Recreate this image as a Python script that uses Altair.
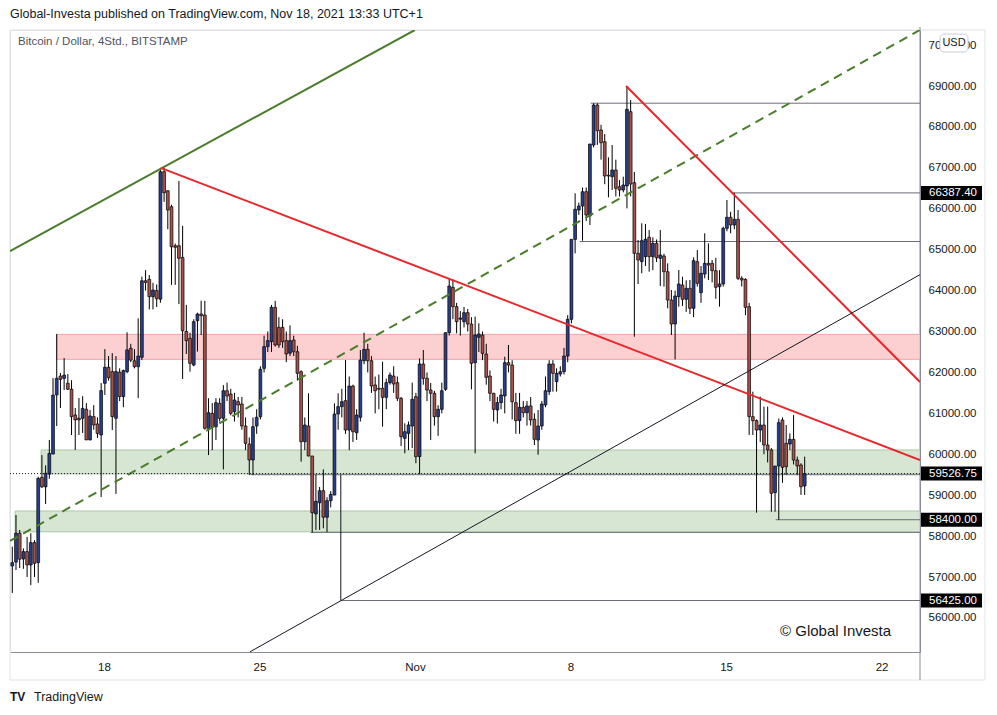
import altair as alt
import pandas as pd

# ---- BTC/USD 4h candles (Bitstamp), day numbers: October = day of month, November = 31 + day
FIRST_DAY = 13.873
CANDLES_PER_DAY = 6

open_ = [
    57270, 57365, 58070, 57440, 57620, 57295, 57840, 57350, 59435, 59205,
    59515, 60005, 61450, 61910, 61855, 61735, 61590, 60960, 60880, 60880,
    61100, 60350, 60920, 60740, 60470, 61735, 62125, 62020, 60880, 62005,
    61410, 62020, 62590, 62285, 62140, 62370, 64240, 64276, 63850, 64000,
    63790, 66906, 66440, 66050, 65097, 65097, 64810, 63000, 62834, 62180,
    63264, 63428, 63403, 60634, 61000, 60674, 61245, 60878, 61553, 61473,
    61040, 61285, 61228, 60690, 60250, 59860, 60690, 60919, 62100, 62630,
    62751, 63591, 63102, 63100, 62777, 62470, 62792, 62506, 62018, 60307,
    60690, 59957, 58542, 58815, 59110, 58461, 58865, 59003, 60983, 61164,
    61310, 60592, 61668, 60527, 60903, 62286, 62564, 62286, 61693, 61611,
    61611, 61391, 61750, 61912, 61750, 61367, 60389, 60511, 60690, 61408,
    59942, 62206, 61856, 61570, 61490, 60919, 61098, 61587, 62971, 64080,
    63607, 63300, 63240, 63460, 63183, 62238, 62858, 62914, 62450, 61912,
    61490, 61082, 61262, 61424, 62238, 62181, 61262, 60822, 61147, 61016,
    61180, 60855, 60348, 60690, 61204, 61530, 62206, 61775, 61961, 62018,
    62400, 63298, 65253, 65970, 66067, 66417, 65823, 67558, 68536, 67925,
    67639, 66820, 66784, 66947, 66539, 66458, 66556, 68372, 66638, 64911,
    64708, 64829, 65302, 64829, 65155, 64789, 64846, 64462, 63770, 63183,
    63851, 64136, 63787, 64055, 63567, 64707, 63950, 64405, 64666, 64666,
    64486, 64096, 64161, 65522, 65791, 65603, 65742, 64300, 64276, 63607,
    60919, 60822, 60592, 60715, 60226, 60104, 59062, 59713, 60837, 60267,
    60250, 60365, 59859, 59737, 59225,
]
high = [
    57740, 58515, 58150, 57700, 57980, 58070, 57900, 59450, 59980, 59730,
    60350, 61860, 62940, 61985, 62350, 61960, 61810, 61130, 61375, 61420,
    61250, 61080, 61200, 60900, 61740, 62570, 62400, 62470, 62400, 62100,
    62070, 62980, 62700, 62570, 63320, 64340, 64500, 64380, 64190, 64150,
    66950, 67000, 66450, 66100, 65150, 66680, 65580, 63650, 62970, 63300,
    63460, 63753, 63750, 61370, 61250, 61370, 61370, 61690, 61750, 61600,
    61500, 61400, 61400, 60900, 60410, 60900, 61100, 62150, 62900, 63000,
    63650, 63750, 63350, 63300, 63000, 63150, 62900, 62650, 62050, 60900,
    61490, 59960, 59500, 59200, 59632, 58950, 59100, 61245, 61490, 61600,
    62303, 61900, 61700, 61100, 62548, 62971, 62700, 62400, 61900, 61950,
    62262, 61850, 62000, 62150, 61900, 61400, 60756, 60800, 61750, 61500,
    62345, 62548, 62000, 61740, 61550, 61200, 61750, 62971, 64300, 64276,
    63700, 63500, 63600, 63550, 63350, 63364, 63200, 63000, 62700, 62050,
    61500, 61400, 61600, 62384, 62670, 62300, 61500, 61500, 61300, 61300,
    61400, 61000, 61082, 61300, 61900, 62300, 62300, 62100, 62150, 62600,
    63400, 65253, 66378, 66150, 66520, 66520, 67583, 68577, 68577, 68050,
    67827, 67257, 67558, 67200, 66700, 66784, 69000, 68658, 66900, 65236,
    65645, 65627, 65480, 65300, 65250, 65480, 64900, 64666, 64014, 64000,
    64503, 64340, 64250, 64259, 64813, 64992, 64600, 65400, 65155, 64747,
    64800, 64500, 65562, 66214, 65927, 66393, 65970, 64350, 64300, 63700,
    61530, 60850, 61408, 61164, 61164, 60150, 59713, 60874, 60900, 60715,
    60511, 60959, 59942, 59780, 59942,
]
low = [
    56610, 57170, 57220, 57200, 57000, 56800, 57000, 56860, 59175, 58785,
    59400, 60000, 60690, 61130, 61570, 61570, 60470, 60105, 60470, 60520,
    60350, 60340, 60600, 60400, 58955, 61450, 61800, 60590, 59030, 61300,
    61150, 61980, 62250, 62100, 61370, 62300, 64000, 63540, 63540, 63600,
    63700, 66170, 65500, 64140, 64140, 63670, 61840, 62450, 62020, 62150,
    62510, 62914, 60600, 59980, 60100, 60350, 60800, 59630, 61300, 60950,
    60800, 60900, 60600, 60100, 59490, 59490, 60500, 60850, 62000, 62500,
    62500, 62630, 62600, 62600, 62250, 62400, 62400, 61800, 59818, 60100,
    59950, 58083, 58150, 58150, 58190, 58100, 58700, 59000, 60600, 60900,
    60500, 60100, 60300, 60350, 60800, 62200, 62000, 61500, 61000, 61100,
    60674, 61100, 61700, 61500, 61300, 60200, 60023, 60100, 60150, 59780,
    59518, 61700, 61300, 60350, 60700, 60450, 61000, 61550, 62900, 63300,
    62956, 62900, 63100, 63000, 61587, 60023, 62500, 62300, 61700, 61300,
    60800, 60750, 61100, 61000, 62000, 60850, 60500, 60500, 60900, 60700,
    60700, 60226, 59990, 60600, 61150, 61450, 61530, 61530, 61900, 61950,
    62250, 63200, 64911, 65850, 65219, 65700, 65603, 67500, 67560, 67200,
    66600, 66280, 66458, 66300, 66300, 66400, 66010, 66300, 62873, 64161,
    64423, 64600, 64462, 64500, 64700, 64112, 64096, 63567, 62914, 62320,
    63607, 63624, 63480, 63428, 63350, 64100, 63700, 64300, 64259, 64200,
    63800, 63607, 64100, 65450, 65400, 65500, 64259, 64100, 63400, 60471,
    60471, 58572, 60300, 60000, 59800, 58596, 58596, 58400, 59300, 59500,
    60100, 59750, 59500, 59006, 59006,
]
close_ = [
    57350, 58075, 57435, 57620, 57295, 57840, 57335, 59410, 59205, 59535,
    60020, 61445, 61855, 61830, 61935, 61590, 60920, 60840, 60840, 61120,
    60350, 60935, 60715, 60510, 61555, 62125, 61870, 60920, 62020, 61410,
    62045, 62550, 62300, 62140, 62400, 64240, 64200, 63850, 64014, 63800,
    66906, 66392, 65970, 65070, 65058, 64790, 63020, 62776, 62223, 63240,
    63428, 63387, 60634, 61016, 60674, 61260, 60878, 61553, 61424, 61000,
    61326, 61204, 60690, 60267, 59860, 60674, 60903, 62077, 62630, 62777,
    63591, 62670, 62670, 62750, 62450, 62777, 62506, 61978, 60307, 60715,
    59957, 58571, 58850, 59110, 58461, 58865, 59020, 60983, 61164, 61285,
    60592, 61668, 60551, 60959, 62303, 62564, 62286, 61668, 61553, 61590,
    61391, 61750, 61937, 61717, 61367, 60429, 60551, 60715, 61343, 59942,
    62206, 61856, 61570, 61490, 60919, 61098, 61553, 62971, 64112, 63607,
    63240, 63330, 63460, 63183, 62222, 62914, 62939, 62466, 61880, 61490,
    61098, 61262, 61449, 62238, 62181, 61285, 60822, 61147, 61016, 61180,
    60838, 60365, 60690, 61228, 61553, 62206, 61978, 61978, 62018, 62400,
    63298, 65253, 65986, 66067, 66417, 65847, 67583, 68536, 67908, 67614,
    66800, 66800, 66947, 66500, 66458, 66580, 68430, 66605, 64911, 64748,
    65219, 65253, 64829, 65155, 64800, 64870, 64462, 63770, 63183, 63868,
    64161, 63787, 64055, 63567, 64731, 64178, 64423, 64666, 64625, 64486,
    64080, 64161, 65522, 65791, 65603, 65742, 64300, 64259, 63591, 60919,
    60822, 60592, 60715, 60226, 60104, 59046, 59713, 60772, 59681, 59697,
    60365, 59859, 59713, 59207, 59527,
]

# ---- drawings (day, price)
green_solid_d = [13.77, 31.99]
green_solid_p = [64967, 70368]
green_dash_d = [13.77, 54.73]
green_dash_p = [57880, 70370]
red1_d = [20.55, 54.73]
red1_p = [67000, 59860]
red2_d = [41.5, 54.73]
red2_p = [69000, 61766]
black_d = [24.57, 54.73]
black_p = [55170, 64390]

zone_kind = ["pink", "green", "green"]
zone_d1 = [15.87, 15.17, 14.0]
zone_p1 = [62320, 59520, 58105]
zone_p2 = [62930, 60104, 58613]

ray_d = [39.91, 46.25, 39.41, 24.6, 27.31, 48.23, 28.66]
ray_p = [68580, 66387.4, 65200, 59500, 58090, 58400, 56425]

tag_price = [66387.40, 59526.75, 58400.00, 56425.00]
last_price = 59526.75

x_ticks = [18, 25, 32, 39, 46, 53]
y_ticks = list(range(56000, 70001, 1000))

X0, X1 = 13.77, 54.73
Y0, Y1 = 55167, 70369

FONT = "Liberation Sans"
TXT = "#131722"

days = [FIRST_DAY + i / CANDLES_PER_DAY for i in range(len(close_))]
df = pd.DataFrame({"d": days, "o": open_, "h": high, "l": low, "c": close_})
df["dir"] = ["up" if c >= o else "down" for o, c in zip(open_, close_)]

xs = alt.Scale(domain=[X0, X1], nice=False, zero=False, padding=0)
ys = alt.Scale(domain=[Y0, Y1], nice=False, zero=False, padding=0)

x_axis = alt.Axis(
    values=x_ticks,
    labelExpr="datum.value == 32 ? 'Nov' : (datum.value > 32 ? toString(datum.value - 31) : toString(datum.value))",
    ticks=False, grid=False, domainColor="#8a8d96", labelColor=TXT,
    labelFontSize=11.5, labelFont=FONT, labelPadding=9, title=None,
)
y_axis = alt.Axis(
    orient="right", values=y_ticks, labelExpr="format(datum.value, '.2f')",
    ticks=False, grid=False, domainColor="#8a8d96", labelColor=TXT,
    labelFontSize=11.5, labelFont=FONT, labelPadding=8, title=None,
    labelOverlap=False,
)


def X(f):
    return alt.X(f, type="quantitative", scale=xs, axis=x_axis)


def Y(f):
    return alt.Y(f, type="quantitative", scale=ys, axis=y_axis)


one = pd.DataFrame({"k": [0]})

card = alt.Chart(one).mark_rect(fillOpacity=0, stroke="#e0e3eb", strokeWidth=1).encode(
    x=alt.value(0), x2=alt.value(975), y=alt.value(0), y2=alt.value(650)
)
sep = alt.Chart(one).mark_rule(color="#8a8d96", strokeWidth=1).encode(
    x=alt.value(910), y=alt.value(-3), y2=alt.value(650)
)

zones = pd.DataFrame({"kind": zone_kind, "d1": zone_d1, "d2": [X1] * 3, "p1": zone_p1, "p2": zone_p2})
pink = alt.Chart(zones[zones.kind == "pink"]).mark_rect(
    fill="#fccfd1", stroke="#f3a5aa", strokeWidth=1, clip=True
).encode(x=X("d1"), x2="d2", y=Y("p1"), y2="p2")
green = alt.Chart(zones[zones.kind == "green"]).mark_rect(
    fill="#d7e6d3", stroke="#abc8a5", strokeWidth=1, clip=True
).encode(x=X("d1"), x2="d2", y=Y("p1"), y2="p2")

rays_df = pd.DataFrame({"d1": ray_d, "d2": [X1] * len(ray_d), "p": ray_p})
rays = alt.Chart(rays_df).mark_rule(color="#6a6d78", strokeWidth=1, clip=True).encode(
    x=X("d1"), x2="d2", y=Y("p")
)
vline = alt.Chart(pd.DataFrame({"d": [ray_d[-1]], "p1": [ray_p[3]], "p2": [ray_p[-1]]})).mark_rule(
    color="#131722", strokeWidth=1, clip=True
).encode(x=X("d"), y=Y("p1"), y2="p2")

dotted = alt.Chart(pd.DataFrame({"p": [last_price]})).mark_rule(
    color="#131722", strokeWidth=1, strokeDash=[1, 2]
).encode(y=Y("p"), x=alt.value(0), x2=alt.value(910))

wicks = alt.Chart(df).mark_rule(color="#000000", strokeWidth=1, clip=True).encode(
    x=X("d"), y=Y("l"), y2="h"
)
bodies = alt.Chart(df).mark_bar(size=2.8, stroke="#000000", strokeWidth=0.7, clip=True).encode(
    x=X("d"), y=Y("o"), y2="c",
    color=alt.Color("dir:N", scale=alt.Scale(domain=["up", "down"], range=["#283f8e", "#a8514a"]), legend=None),
)


def tline(dd, pp, color, width, dash=None):
    kw = dict(color=color, strokeWidth=width, clip=True)
    if dash:
        kw["strokeDash"] = dash
    return alt.Chart(pd.DataFrame({"d": dd, "p": pp})).mark_line(**kw).encode(x=X("d"), y=Y("p"))


g1 = tline(green_solid_d, green_solid_p, "#4a7d2a", 2)
g2 = tline(green_dash_d, green_dash_p, "#4a7d2a", 2, [9, 6])
r1 = tline(red1_d, red1_p, "#e8262b", 2)
r2 = tline(red2_d, red2_p, "#e8262b", 2)
bl = tline(black_d, black_p, "#131722", 1)

tags_df = pd.DataFrame({"p": tag_price, "t": [f"{v:.2f}" for v in tag_price]})
tag_box = alt.Chart(tags_df).mark_rect(color="#000000", yOffset=-7, y2Offset=7).encode(
    x=alt.value(911), x2=alt.value(972), y=Y("p"), y2="p"
)
tag_txt = alt.Chart(tags_df).mark_text(
    color="#ffffff", align="left", baseline="middle", fontSize=11.5, font=FONT
).encode(x=alt.value(919), y=Y("p"), text="t:N")

usd_box = alt.Chart(one).mark_rect(fill="#ffffff", stroke="#c9ccd4", strokeWidth=1, cornerRadius=4).encode(
    x=alt.value(930), x2=alt.value(958), y=alt.value(4), y2=alt.value(22)
)
usd_txt = alt.Chart(pd.DataFrame({"t": ["USD"]})).mark_text(
    color=TXT, align="center", baseline="middle", fontSize=11, font=FONT
).encode(x=alt.value(944), y=alt.value(13), text="t:N")


def label(t, x, y, size, color=TXT, weight="normal"):
    return alt.Chart(pd.DataFrame({"t": [t]})).mark_text(
        color=color, align="left", baseline="middle", fontSize=size, font=FONT, fontWeight=weight
    ).encode(x=alt.value(x), y=alt.value(y), text="t:N")


header = label("Global-Investa published on TradingView.com, Nov 18, 2021 13:33 UTC+1", 0, -16, 12.5)
symbol = label("Bitcoin / Dollar, 4Std., BITSTAMP", 8, 12, 11.5, "#50535e")
wm = label("© Global Investa", 770, 601, 15)
tv_logo = label("TV", 0, 667, 12, TXT, "bold")
tv_txt = label("TradingView", 24, 667, 12.5)

chart = alt.layer(
    card, sep, pink, green, rays, vline, wicks, bodies, g1, g2, r1, r2, bl, dotted,
    tag_box, tag_txt, usd_box, usd_txt, header, symbol, wm, tv_logo, tv_txt,
).properties(
    width=910, height=622, autosize="none",
    padding={"left": 10, "top": 30, "right": 77, "bottom": 63},
).configure_view(stroke=None).configure(background="#ffffff")

chart.save("out.html", embed_options={"renderer": "svg", "actions": False})
